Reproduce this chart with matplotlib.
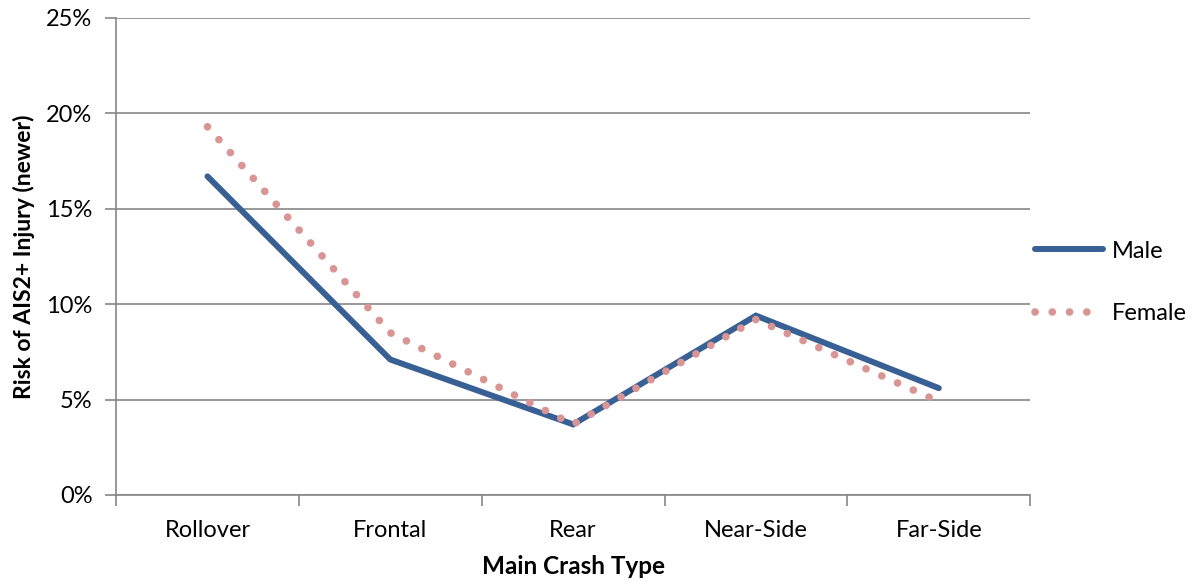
import matplotlib
matplotlib.use("Agg")
import matplotlib.pyplot as plt
from matplotlib.ticker import FuncFormatter, FixedLocator
import numpy as np

# Data
crash_types = ["Rollover", "Frontal", "Rear", "Near-Side", "Far-Side"]
male_risk = [0.167, 0.071, 0.037, 0.094, 0.056]
female_risk = [0.193, 0.085, 0.037, 0.092, 0.049]

plt.rcParams["font.family"] = ["Lato", "DejaVu Sans"]

fig = plt.figure(figsize=(11.95, 5.88), dpi=100)
ax = fig.add_axes([0.0971, 0.1582, 0.7650, 0.8112])

x = np.arange(len(crash_types))
ax.plot(x, male_risk, color="#386095", linewidth=4.3,
        solid_capstyle="round", solid_joinstyle="miter", label="Male", zorder=3)
ax.plot(x, female_risk, color="#D99593", linewidth=5.5,
        linestyle=(0, (0.01, 2.25)), dash_capstyle="round", label="Female", zorder=4)

ax.set_xlim(-0.5, len(crash_types) - 0.5)
ax.set_ylim(0, 0.25)
ax.set_yticks(np.arange(0, 0.2501, 0.05))
ax.yaxis.set_major_formatter(FuncFormatter(lambda v, p: f"{v*100:.0f}%"))
ax.yaxis.grid(True, color="#868686", linewidth=1.2)
ax.set_axisbelow(True)

# category labels centred, tick marks at boundaries
ax.set_xticks(x)
ax.set_xticklabels(crash_types)
ax.tick_params(axis="x", which="major", length=0, pad=18, labelsize=17)
ax.xaxis.set_minor_locator(FixedLocator(np.arange(-0.5, len(crash_types), 1.0)))
ax.tick_params(axis="x", which="minor", length=8, color="#868686", width=1.2)
ax.tick_params(axis="y", length=8, color="#868686", width=1.2, labelsize=17, pad=9)

for s in ["top", "right"]:
    ax.spines[s].set_visible(False)
for s in ["left", "bottom"]:
    ax.spines[s].set_color("#868686")
    ax.spines[s].set_linewidth(1.2)

ax.set_ylabel("Risk of AIS2+ Injury (newer)", fontsize=16.5, fontweight="bold", labelpad=8)
ax.set_xlabel("Main Crash Type", fontsize=17.5, fontweight="bold", labelpad=10)

ax.legend(loc="center left", bbox_to_anchor=(0.982, 0.446), frameon=False,
          fontsize=17, handlelength=2.9, handletextpad=0.35, labelspacing=1.75)

fig.savefig("out.png", dpi=100)
